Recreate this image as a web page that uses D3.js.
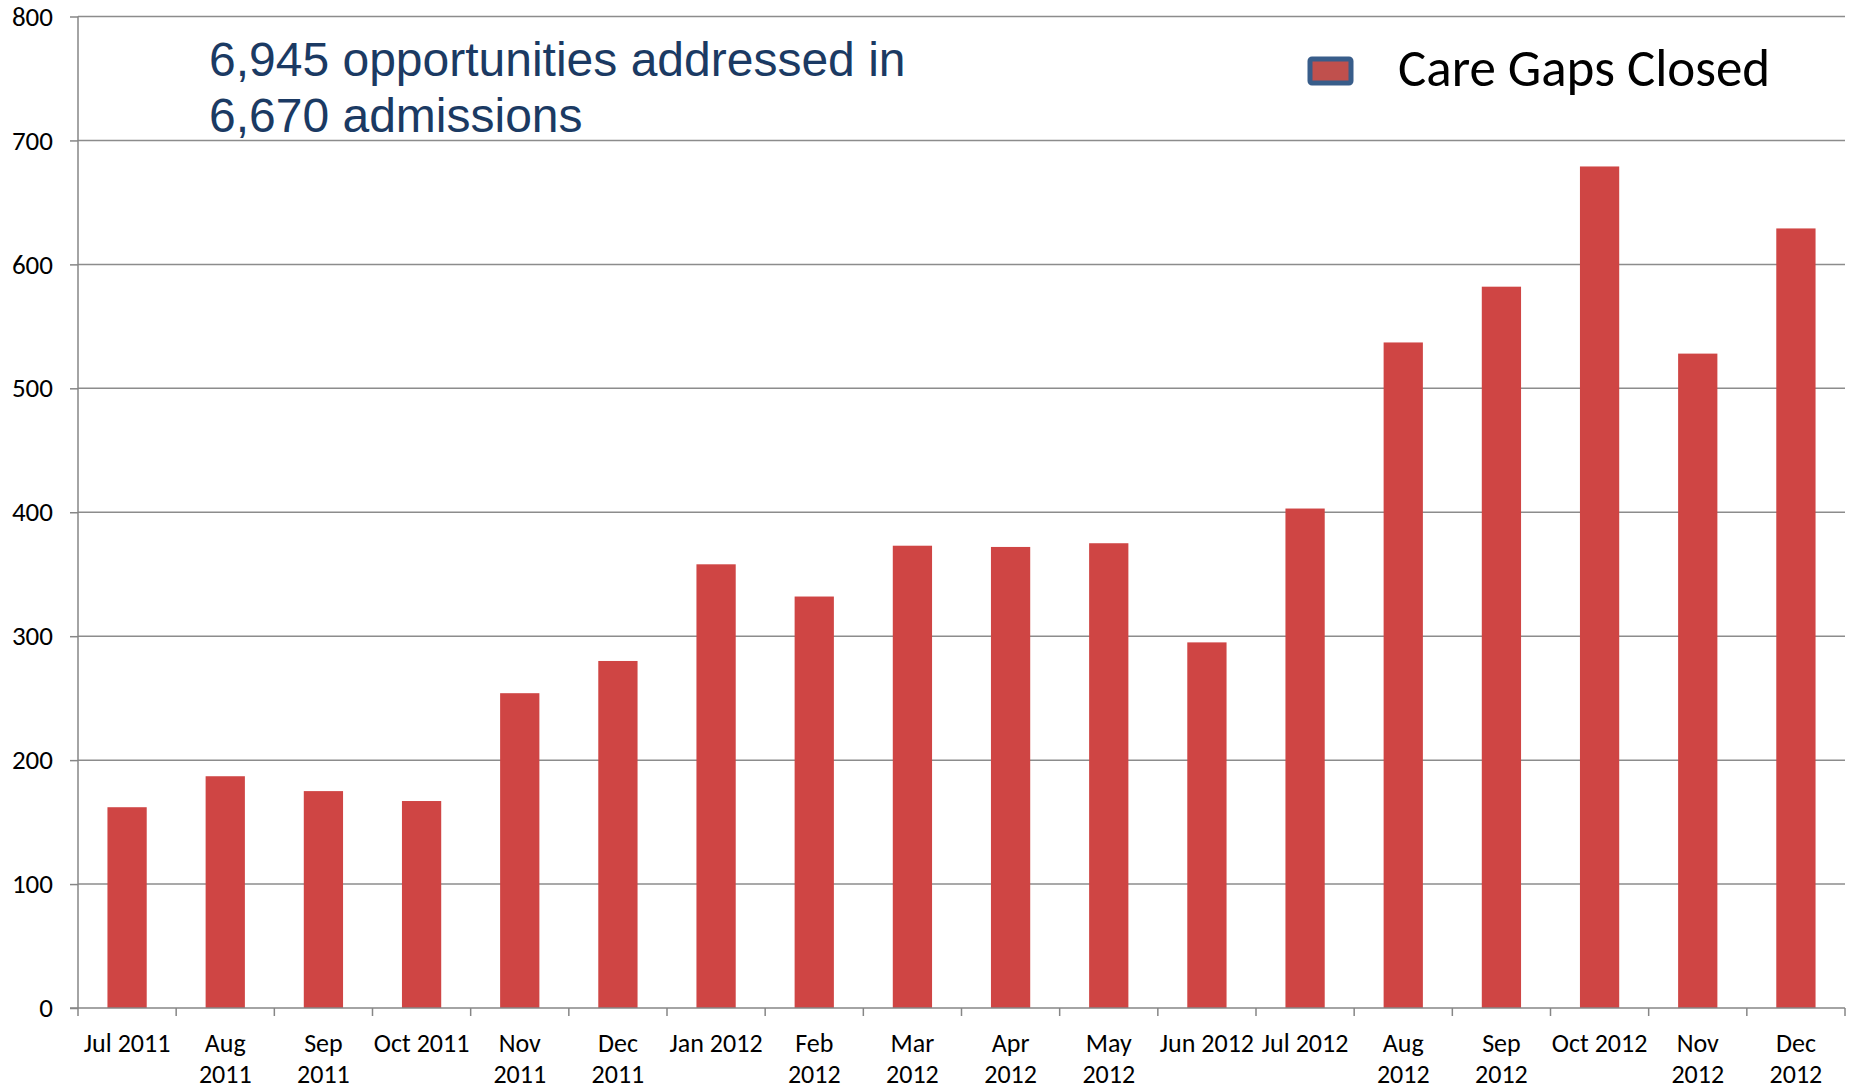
<!DOCTYPE html>
<html>
<head>
<meta charset="utf-8">
<script src="https://cdn.jsdelivr.net/npm/d3@7"></script>
<style>
  body { margin: 0; background: #fff; }
  #canvas { width: 1858px; height: 1090px; }
  .axis path, .axis line { stroke: #868686; stroke-width: 1.5px; }
  .grid line { stroke: #8c8c8c; stroke-width: 1.5px; }
  .axis-y text { font-family: Carlito, Lato, sans-serif; font-size: 27px; fill: #000; }
  .axis-x text { font-family: Carlito, Lato, sans-serif; font-size: 26px; fill: #000; }
</style>
</head>
<body>
<div id="canvas" class="canvas"></div>
<script>
// data
var months = ["Jul 2011","Aug 2011","Sep 2011","Oct 2011","Nov 2011","Dec 2011",
              "Jan 2012","Feb 2012","Mar 2012","Apr 2012","May 2012","Jun 2012",
              "Jul 2012","Aug 2012","Sep 2012","Oct 2012","Nov 2012","Dec 2012"];
// how the labels wrap in the original
var monthLines = [["Jul 2011"],["Aug","2011"],["Sep","2011"],["Oct 2011"],["Nov","2011"],["Dec","2011"],
                  ["Jan 2012"],["Feb","2012"],["Mar","2012"],["Apr","2012"],["May","2012"],["Jun 2012"],
                  ["Jul 2012"],["Aug","2012"],["Sep","2012"],["Oct 2012"],["Nov","2012"],["Dec","2012"]];
var gapsClosed = [162,187,175,167,254,280,358,332,373,372,375,295,403,537,582,679,528,629];
var yTicks = [0,100,200,300,400,500,600,700,800];
var seriesName = "Care Gaps Closed";
var titleLines = ["6,945 opportunities addressed in","6,670 admissions"];

var m = {t:16.5,r:13,b:82,l:78};
var outerWidth = 1858, outerHeight = 1090;
var w = outerWidth - m.l - m.r,
    h = outerHeight - m.t - m.b;

var svg = d3.select('.canvas')
    .append('svg')
    .attr('width',outerWidth)
    .attr('height',outerHeight);

var plot = svg.append('g')
    .attr('transform','translate(' + m.l + ',' + m.t + ')');

var scaleX = d3.scaleBand()
    .domain(months)
    .range([0,w])
    .paddingInner(0.6)
    .paddingOuter(0.3);

var scaleY = d3.scaleLinear()
    .domain([0,800])
    .range([h,0]);

// gridlines
plot.append('g')
    .attr('class','grid')
    .selectAll('line')
    .data(yTicks.slice(1))
    .enter()
    .append('line')
    .attr('x1',0).attr('x2',w)
    .attr('y1',function(d){return scaleY(d);})
    .attr('y2',function(d){return scaleY(d);});

// bars
plot.selectAll('.bar')
    .data(gapsClosed)
    .enter()
    .append('rect')
    .attr('class','bar')
    .attr('x',function(d,i){return scaleX(months[i]);})
    .attr('y',function(d){return scaleY(d);})
    .attr('width',scaleX.bandwidth())
    .attr('height',function(d){return h - scaleY(d);})
    .style('fill','#cf4544');

// y axis
var axisY = d3.axisLeft()
    .scale(scaleY)
    .tickValues(yTicks)
    .tickSize(8)
    .tickPadding(17);

plot.append('g')
    .attr('class','axis axis-y')
    .call(axisY)
    .call(function(g){ g.select('.domain').attr('d','M0,' + h + 'V0'); });

// x axis: ticks sit on band edges
var edges = months.map(function(d){return scaleX(d) - scaleX.step()*scaleX.paddingInner()/2;});
edges.push(w);

var axisX = plot.append('g')
    .attr('class','axis axis-x')
    .attr('transform','translate(0,' + h + ')');

axisX.append('line')
    .attr('x1',-8).attr('x2',w)
    .attr('y1',0).attr('y2',0);

axisX.selectAll('.tick-mark')
    .data(edges)
    .enter()
    .append('line')
    .attr('class','tick-mark')
    .attr('x1',function(d){return d;})
    .attr('x2',function(d){return d;})
    .attr('y1',0).attr('y2',8);

axisX.selectAll('.label')
    .data(monthLines)
    .enter()
    .append('text')
    .attr('class','label')
    .attr('text-anchor','middle')
    .attr('transform',function(d,i){return 'translate(' + (scaleX(months[i]) + scaleX.bandwidth()/2) + ',44)';})
    .selectAll('tspan')
    .data(function(d){return d;})
    .enter()
    .append('tspan')
    .attr('x',0)
    .attr('y',function(d,i){return i*31;})
    .text(function(d){return d;});

// title text
svg.append('text')
    .attr('x',209)
    .attr('y',76)
    .style('font-family','"Liberation Sans", Arial, sans-serif')
    .style('font-size','48px')
    .style('fill','#1b3a63')
    .selectAll('tspan')
    .data(titleLines)
    .enter()
    .append('tspan')
    .attr('x',209)
    .attr('dy',function(d,i){return i === 0 ? 0 : 56;})
    .text(function(d){return d;});

// legend
var legend = svg.append('g').attr('transform','translate(1310,59)');
legend.append('rect')
    .attr('width',41).attr('height',24)
    .attr('rx',2)
    .style('fill','#c0504d')
    .style('stroke','#385d8a')
    .style('stroke-width',5);
legend.append('text')
    .attr('x',88)
    .attr('y',27)
    .style('font-family','Carlito, Lato, sans-serif')
    .style('font-size','53px')
    .style('fill','#000')
    .text(seriesName);
</script>
</body>
</html>
